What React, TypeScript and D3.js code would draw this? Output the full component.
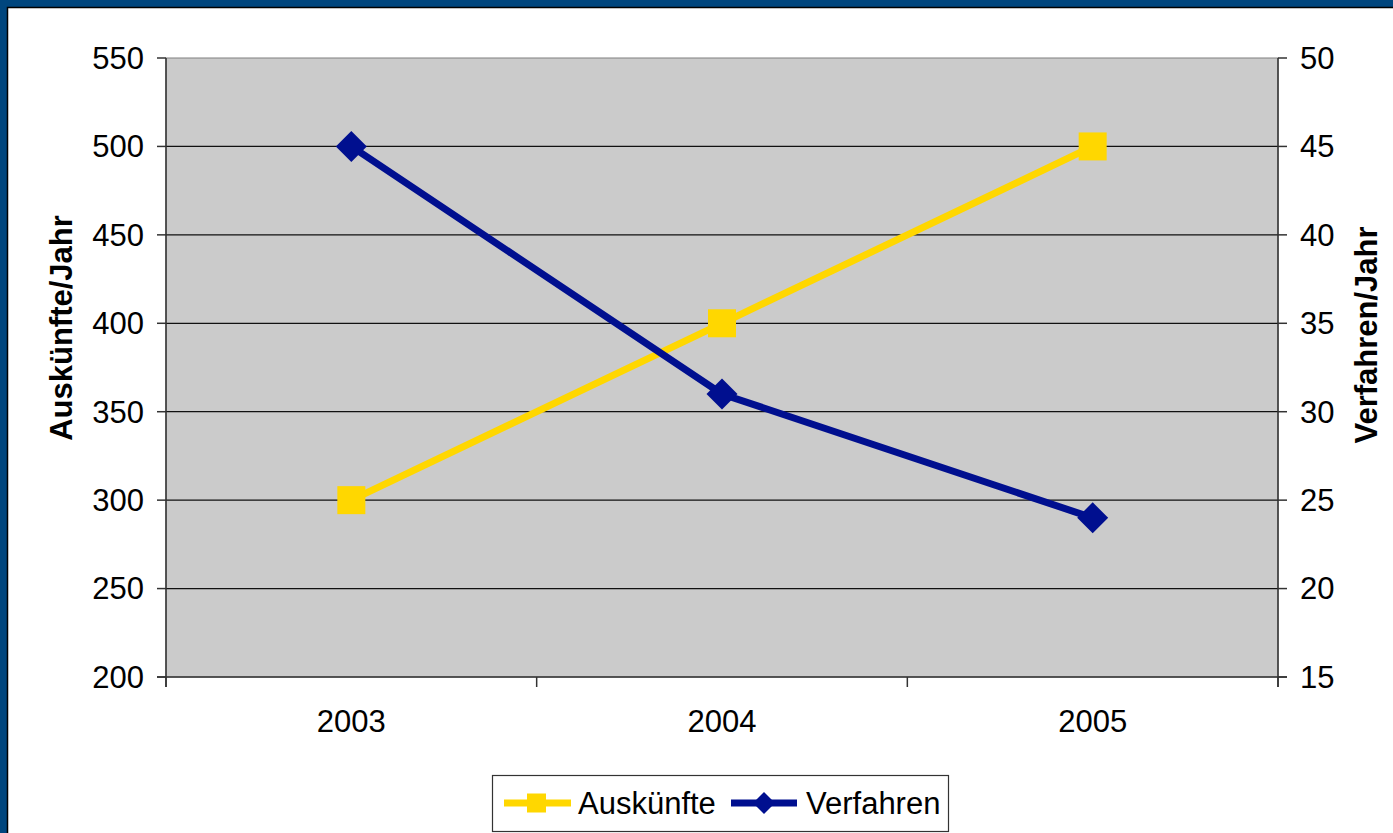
import React, { useEffect, useRef } from "react";
import * as d3 from "d3";

const years = ["2003", "2004", "2005"];
const auskuenfte = [300, 400, 500];
const verfahren = [45, 31, 24];
const leftTicks = [200, 250, 300, 350, 400, 450, 500, 550];
const rightTicks = [15, 20, 25, 30, 35, 40, 45, 50];

const W = 1393;
const H = 833;
const FONT = "'Liberation Sans', Arial, sans-serif";
const YELLOW = "#ffd700";
const BLUE = "#000f8f";

const App = () => {
  const ref = useRef<SVGSVGElement | null>(null);

  useEffect(() => {
    const svg = d3.select(ref.current);
    svg.selectAll("*").remove();

    // frame
    svg.append("rect").attr("width", W).attr("height", H).attr("fill", "#00467e");
    svg
      .append("rect")
      .attr("x", 7.5)
      .attr("y", 7.5)
      .attr("width", W)
      .attr("height", H)
      .attr("fill", "#fff")
      .attr("stroke", "#000")
      .attr("stroke-width", 1.5);

    const left = 166, right = 1278, top = 58, bottom = 677;

    const x = d3.scaleBand().domain(years).range([left, right]);
    const yL = d3.scaleLinear().domain([200, 550]).range([bottom, top]);
    const yR = d3.scaleLinear().domain([15, 50]).range([bottom, top]);

    // plot area
    svg
      .append("rect")
      .attr("x", left)
      .attr("y", top)
      .attr("width", right - left)
      .attr("height", bottom - top)
      .attr("fill", "#cbcbcb")
      .attr("stroke", "#808080")
      .attr("stroke-width", 1);

    // gridlines
    svg
      .selectAll(".grid")
      .data(leftTicks.slice(1, -1))
      .enter()
      .append("line")
      .attr("x1", left)
      .attr("x2", right)
      .attr("y1", (d) => yL(d))
      .attr("y2", (d) => yL(d))
      .attr("stroke", "#111")
      .attr("stroke-width", 1.2);

    // axes
    const axisG = svg.append("g").attr("stroke", "#333").attr("stroke-width", 1.5);
    axisG.append("line").attr("x1", left).attr("x2", left).attr("y1", top).attr("y2", bottom + 10);
    axisG.append("line").attr("x1", right).attr("x2", right).attr("y1", top).attr("y2", bottom + 10);
    axisG.append("line").attr("x1", left - 9).attr("x2", right + 9).attr("y1", bottom).attr("y2", bottom);

    // left ticks
    leftTicks.forEach((t) => {
      axisG.append("line").attr("x1", left - 9).attr("x2", left).attr("y1", yL(t)).attr("y2", yL(t));
    });
    rightTicks.forEach((t) => {
      axisG.append("line").attr("x1", right).attr("x2", right + 9).attr("y1", yR(t)).attr("y2", yR(t));
    });
    const bounds = [left, ...years.slice(1).map((y) => x(y) as number), right];
    bounds.forEach((b) => {
      axisG.append("line").attr("x1", b).attr("x2", b).attr("y1", bottom).attr("y2", bottom + 10);
    });

    const txt = svg.append("g").attr("font-family", FONT).attr("font-size", 31).attr("fill", "#000");
    leftTicks.forEach((t) => {
      txt
        .append("text")
        .attr("x", left - 22)
        .attr("y", yL(t))
        .attr("dy", "0.35em")
        .attr("text-anchor", "end")
        .text(t);
    });
    rightTicks.forEach((t) => {
      txt
        .append("text")
        .attr("x", right + 22)
        .attr("y", yR(t))
        .attr("dy", "0.35em")
        .text(t);
    });
    years.forEach((y) => {
      txt
        .append("text")
        .attr("x", (x(y) as number) + x.bandwidth() / 2)
        .attr("y", 732)
        .attr("text-anchor", "middle")
        .text(y);
    });

    // axis titles
    txt
      .append("text")
      .attr("transform", "translate(72,328) rotate(-90)")
      .attr("text-anchor", "middle")
      .attr("font-weight", "bold")
      .text("Auskünfte/Jahr");
    txt
      .append("text")
      .attr("transform", "translate(1377,335) rotate(-90)")
      .attr("text-anchor", "middle")
      .attr("font-weight", "bold")
      .text("Verfahren/Jahr");

    const cx = (i: number) => (x(years[i]) as number) + x.bandwidth() / 2;

    // Auskünfte line
    const lineL = d3
      .line<number>()
      .x((_, i) => cx(i))
      .y((d) => yL(d));
    svg
      .append("path")
      .datum(auskuenfte)
      .attr("d", lineL)
      .attr("fill", "none")
      .attr("stroke", YELLOW)
      .attr("stroke-width", 7);
    svg
      .selectAll(".sq")
      .data(auskuenfte)
      .enter()
      .append("rect")
      .attr("x", (_, i) => cx(i) - 14)
      .attr("y", (d) => yL(d) - 14)
      .attr("width", 28)
      .attr("height", 28)
      .attr("fill", YELLOW);

    // Verfahren line
    const lineR = d3
      .line<number>()
      .x((_, i) => cx(i))
      .y((d) => yR(d));
    svg
      .append("path")
      .datum(verfahren)
      .attr("d", lineR)
      .attr("fill", "none")
      .attr("stroke", BLUE)
      .attr("stroke-width", 7);
    const diamond = (r: number) => `M0,${-r}L${r},0L0,${r}L${-r},0Z`;
    svg
      .selectAll(".dm")
      .data(verfahren)
      .enter()
      .append("path")
      .attr("transform", (d, i) => `translate(${cx(i)},${yR(d)})`)
      .attr("d", diamond(15.5))
      .attr("fill", BLUE);

    // legend
    const lg = svg.append("g");
    lg.append("rect")
      .attr("x", 492.5)
      .attr("y", 775.5)
      .attr("width", 456)
      .attr("height", 56)
      .attr("fill", "#fff")
      .attr("stroke", "#333")
      .attr("stroke-width", 1.2);
    const ly = 803;
    lg.append("line").attr("x1", 504).attr("x2", 571).attr("y1", ly).attr("y2", ly).attr("stroke", YELLOW).attr("stroke-width", 7);
    lg.append("rect").attr("x", 527).attr("y", ly - 9.5).attr("width", 19).attr("height", 19).attr("fill", YELLOW);
    lg.append("text")
      .attr("x", 578)
      .attr("y", ly + 11)
      .attr("font-family", FONT)
      .attr("font-size", 31)
      .text("Auskünfte");
    lg.append("line").attr("x1", 731).attr("x2", 797).attr("y1", ly).attr("y2", ly).attr("stroke", BLUE).attr("stroke-width", 7);
    lg.append("path").attr("transform", `translate(764,${ly})`).attr("d", diamond(11)).attr("fill", BLUE);
    lg.append("text")
      .attr("x", 806)
      .attr("y", ly + 11)
      .attr("font-family", FONT)
      .attr("font-size", 31)
      .text("Verfahren");
  }, []);

  return (
    <svg
      ref={ref}
      width={W}
      height={H}
      style={{ position: "absolute", left: 0, top: 0, display: "block" }}
    />
  );
};

export default App;
